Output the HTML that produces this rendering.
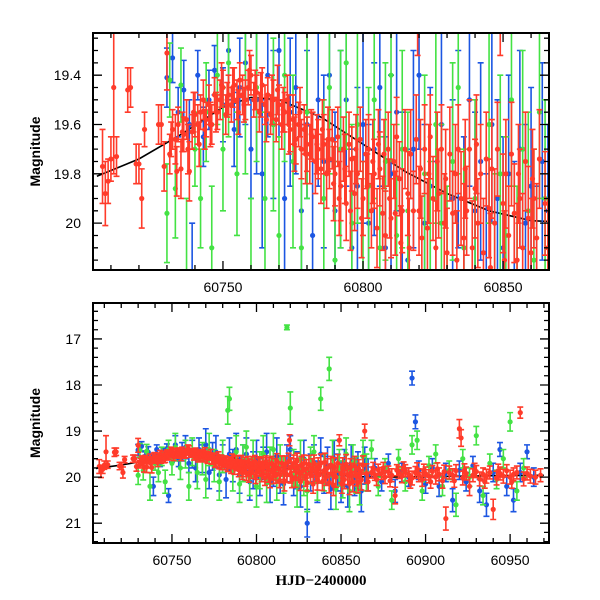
<!DOCTYPE html>
<html><head><meta charset="utf-8"><style>
html,body{margin:0;padding:0;background:#fff}
svg{display:block}
.tl{font-family:"Liberation Sans",sans-serif;font-size:14px;fill:#000}
.tt{font-family:"Liberation Serif",serif;font-size:15px;font-weight:bold;fill:#000}
</style></head><body>
<svg id="chart" width="600" height="600" viewBox="0 0 600 600" xmlns="http://www.w3.org/2000/svg">
<defs>
<clipPath id="clipTop"><rect x="93" y="33" width="456" height="237"/></clipPath>
<clipPath id="clipBot"><rect x="93" y="303" width="456" height="240"/></clipPath>
</defs>
<g id="top"></g>
<g id="bot"></g>
</svg>
<script>
const redPoints=[[60707,19.77,.15],[60708,19.88,.13],[60709,19.83,.09],[60710,19.74,.09],[60711,19.45,.35],[60712,19.73,.08],[60716,19.46,.09],[60717,19.45,.08],[60719,19.76,.08],[60720,19.76,.08],[60721,19.9,.12],[60722,19.62,.07],[60727,19.6,.08],[60728,19.6,.08],[60729,19.77,.1],[60730,19.31,.15],
[60731,19.72,.08],[60731.5,19.66,.07],[60732,19.62,.08],[60733,19.66,.1],[60733.5,19.79,.1],[60734,19.6,.07],[60735,19.78,.12],[60735.5,19.63,.08],[60736,19.64,.07],[60737,19.58,.08],[60737.5,19.7,.1],[60738,19.79,.12],[60739,19.63,.07],[60739.5,19.55,.08],[60740,19.56,.09],[60741,19.6,.08],[60741.5,19.68,.09],[60742,19.55,.07],[60743,19.5,.08],[60743.5,19.62,.08],[60744,19.58,.07],[60745,19.52,.08],[60745.5,19.6,.09],[60746,19.6,.08],[60747,19.48,.07],[60747.5,19.55,.08],[60748,19.55,.07],[60749,19.5,.08],[60749.5,19.44,.09],[60750,19.45,.07],[60751,19.56,.08],[60751.5,19.5,.07],[60752,19.48,.08],[60753,19.52,.07],[60753.5,19.45,.08],[60754,19.44,.07],[60755,19.5,.08],[60755.5,19.55,.09],[60756,19.42,.07],[60757,19.48,.08],[60757.5,19.52,.07],[60758,19.5,.08],[60759,19.45,.07],[60759.5,19.38,.08],[60760,19.4,.08],[60761,19.5,.07],[60761.5,19.46,.08],[60762,19.47,.07],[60763,19.55,.08],[60763.5,19.48,.09],[60764,19.44,.07],[60765,19.52,.08],[60765.5,19.58,.09],[60766,19.48,.07],[60767,19.56,.08],[60767.5,19.5,.1],[60768,19.5,.08],[60769,19.58,.09],[60769.5,19.46,.1],[60770,19.52,.08],[60771,19.6,.1],[60771.5,19.54,.09],[60772,19.55,.08],[60773,19.5,.1],[60773.5,19.6,.12],[60774,19.62,.09],[60775,19.58,.1],[60775.5,19.68,.11],[60776,19.66,.1],[60777,19.6,.09],[60777.5,19.55,.1],[60778,19.7,.12],[60779,19.62,.1],[60779.5,19.72,.12],[60780,19.68,.11],[60781,19.72,.12],[60781.5,19.64,.1],[60782,19.65,.1],[60783,19.75,.13],[60783.5,19.68,.12],[60784,19.7,.12],[60785,19.78,.14],[60785.5,19.62,.12],[60786,19.68,.12],[60787,19.8,.14],[60787.5,19.66,.13],[60788,19.74,.12],[60789,19.66,.12],[60789.5,19.84,.15],[60790,19.8,.13],[60791,19.65,.12],[60791.5,19.9,.15],[60792,19.85,.14],[60793,19.7,.13],[60793.5,19.78,.14],[60794,19.92,.15],[60795,19.68,.13],[60795.5,19.95,.16],[60796,19.74,.13],[60797,19.88,.15],[60797.5,19.7,.14],[60798,19.8,.14],[60799,19.66,.13],[60799.5,19.98,.16],[60800,19.9,.15],[60801,19.72,.14],[60801.5,19.85,.13],[60802,19.7,.14],[60803,19.95,.15],[60803.5,19.75,.17],[60804,19.8,.14],[60805,20.02,.16],[60805.5,19.68,.14],[60806,19.78,.15],[60807,19.96,.15],[60807.5,19.72,.14],[60808,20.05,.18],[60809,19.7,.15],[60809.5,19.9,.16],[60810,19.98,.16],[60811,19.75,.15],[60811.5,19.96,.17],[60812,19.65,.16],[60813,19.82,.15],[60813.5,20.08,.15],[60814,19.95,.17],[60815,19.7,.16],[60816,19.88,.17],[60816.5,20.1,.2],[60817,19.72,.18],[60818,19.95,.16],[60819,19.66,.18],[60819.5,19.2,.12],[60820,19.95,.18],[60820.5,19.78,.2],[60821,20.06,.17],[60822,19.7,.18],[60823,20.02,.2],[60823.5,19.8,.2],[60824,19.65,.17],[60825,19.9,.17],[60826,20.1,.19],[60826.5,19.75,.2],[60827,19.88,.18],[60828,19.7,.18],[60829,20.0,.2],[60829.5,19.82,.2],[60830,20.12,.18],[60831,19.72,.19],[60832,19.96,.17],[60833,19.8,.2],[60833.5,20.15,.2],[60834,19.7,.18],[60835,19.9,.19],[60836,20.06,.22],[60836.5,19.78,.2],[60837,19.95,.18],[60838,19.7,.2],[60839,20.1,.19],[60840,19.86,.2],[60840.5,19.68,.2],[60841,20.0,.18],[60842,19.8,.2],[60843,20.12,.22],[60844,19.74,.19],[60845,19.94,.2],[60845.5,20.18,.22],[60846,19.78,.2],[60847,20.0,.22],[60848,19.7,.19],[60849,19.2,.12],[60850,19.92,.2],[60850.5,20.15,.2],[60851,19.8,.22],[60852,20.05,.2],[60853,19.72,.21],[60854,19.96,.2],[60855,20.15,.23],[60855.5,19.8,.2],[60856,19.9,.2],[60857,20.1,.22],[60858,19.75,.2],[60859,19.98,.21],[60860,20.12,.22],[60860.5,19.82,.2],[60861,19.9,.2],[60862,20.06,.22],[60863,19.74,.2],[60864,19.0,.15],[60865,19.92,.21],[60866,20.1,.2],
[60868,19.9,.12],[60869,19.8,.12],[60870,19.95,.12],[60871,20.05,.13],[60872,19.84,.12],[60874,19.92,.13],[60875,19.8,.12],[60876,20.0,.14],[60878,19.88,.12],[60879,20.08,.13],[60880,19.96,.14],[60882,20.4,.18],[60883,19.85,.12],[60884,19.9,.13],[60886,19.98,.14],[60887,19.8,.13],[60888,19.86,.13],[60890,19.94,.14],[60891,20.1,.14],[60892,20.02,.15],[60894,19.9,.13],[60895,19.82,.13],[60896,19.96,.14],[60898,20.05,.15],[60899,19.85,.13],[60900,19.92,.14],[60902,19.98,.14],[60903,20.1,.14],[60904,19.88,.13],[60906,20.0,.15],[60907,19.82,.13],[60908,19.94,.14],[60910,20.08,.16],[60911,19.88,.14],[60912,20.9,.25],[60914,19.9,.14],[60916,19.96,.14],[60917,20.08,.14],[60918,19.86,.13],[60920,18.95,.2],[60921,19.15,.18],[60922,20.02,.15],[60923,19.85,.14],[60924,19.92,.14],[60926,20.2,.2],[60928,19.96,.14],[60929,19.84,.14],[60930,19.88,.13],[60932,20.04,.15],[60934,19.94,.14],[60935,20.1,.14],[60936,19.98,.15],[60938,19.9,.14],[60940,20.7,.22],[60942,20.02,.15],[60943,19.86,.14],[60944,19.92,.14],[60946,19.98,.15],[60948,19.86,.13],[60950,20.0,.15],[60951,20.1,.14],[60952,19.94,.14],[60954,19.9,.14],[60956,18.6,.12],[60958,20.04,.15],[60960,19.92,.14],[60962,19.98,.15],[60965,20.0,.15],[60968,19.96,.14]];

const bluePoints=[[60730,19.41,.12],[60732,19.33,.1],[60734,19.55,.1],[60736,19.46,.12],[60738,19.6,.1],[60739,20.2,.2],[60741,19.4,.1],[60743,19.65,.12],[60745,19.5,.12],[60747,19.38,.1],[60748,20.4,.15],[60750,19.52,.15],[60752,19.3,.2],[60754,19.62,.15],[60756,19.45,.2],[60758,19.35,.25],[60760,19.7,.2],[60762,19.5,.3],[60764,19.8,.3],[60766,19.4,.25],[60768,19.6,.3],[60770,19.3,.35],[60772,19.9,.35],[60774,19.55,.3],[60776,19.45,.35],[60778,19.95,.35],[60780,19.6,.3],[60782,20.05,.4],[60784,19.5,.35],[60786,19.75,.35],[60788,19.4,.35],[60790,19.95,.4],[60792,19.7,.4],[60794,19.5,.35],[60796,20.1,.4],[60798,19.85,.4],[60800,19.6,.4],[60802,20.0,.4],[60804,19.7,.35],[60806,19.45,.4],[60808,20.1,.45],[60810,19.8,.4],[60812,19.55,.4],[60814,19.95,.4],[60816,20.15,.45],[60818,19.7,.4],[60820,19.4,.3],[60822,20.0,.4],[60824,19.85,.4],[60826,20.2,.45],[60828,19.6,.4],[60830,21.0,.3],[60832,19.9,.4],[60834,19.7,.4],[60836,20.1,.45],[60838,19.5,.35],[60840,19.95,.4],[60842,19.75,.4],[60844,20.25,.45],[60846,19.6,.4],[60848,19.9,.4],[60850,20.1,.45],[60852,19.8,.4],[60854,20.2,.45],[60856,19.7,.4],[60858,20.0,.4],[60860,19.85,.4],[60862,20.3,.45],[60864,19.75,.4],[60866,19.95,.35],[60870,19.8,.2],[60874,20.1,.2],[60878,19.7,.2],[60882,20.3,.25],[60886,19.9,.2],[60890,20.0,.2],[60892,17.85,.15],[60894,18.8,.15],[60896,19.85,.2],[60900,20.15,.2],[60904,19.8,.2],[60908,20.2,.22],[60912,19.9,.2],[60916,20.5,.25],[60920,19.85,.2],[60924,20.1,.2],[60928,19.75,.2],[60932,20.3,.25],[60936,20.6,.25],[60940,19.9,.2],[60944,19.4,.15],[60948,20.2,.2],[60952,20.5,.25],[60956,19.9,.2],[60960,19.45,.15],[60964,20.0,.2]];

const greenPoints=[[60730,19.96,.2],[60731,19.42,.15],[60733,19.86,.2],[60735,19.44,.15],[60737,20.2,.3],[60740,19.7,.15],[60742,19.9,.2],[60744,19.55,.2],[60746,20.1,.25],[60748,19.4,.2],[60750,19.7,.25],[60752,19.35,.3],[60755,19.8,.25],[60758,19.5,.3],[60760,20.2,.3],[60762,19.45,.3],[60765,19.9,.35],[60768,19.6,.35],[60770,20.05,.4],[60772,19.4,.35],[60775,19.75,.35],[60778,20.1,.4],[60780,19.55,.35],[60783,18.55,.3],[60784,18.3,.25],[60786,19.9,.4],[60788,19.45,.35],[60790,20.15,.4],[60792,19.7,.4],[60794,19.35,.35],[60796,20.0,.4],[60798,19.6,.4],[60800,20.2,.45],[60802,19.85,.4],[60804,19.5,.4],[60806,20.1,.45],[60808,19.75,.4],[60810,19.4,.35],[60812,20.05,.45],[60814,19.7,.4],[60816,19.95,.4],[60818,16.75,.05],[60820,18.5,.35],[60822,19.8,.4],[60824,20.2,.45],[60826,19.6,.4],[60828,20.0,.4],[60830,20.3,.45],[60832,19.75,.4],[60834,19.45,.35],[60836,20.1,.4],[60838,18.3,.25],[60840,19.9,.4],[60843,17.65,.25],[60845,19.6,.4],[60847,20.25,.45],[60849,19.8,.4],[60851,20.05,.4],[60853,19.5,.35],[60855,20.3,.45],[60857,19.7,.4],[60859,19.95,.4],[60861,20.15,.45],[60863,19.55,.35],[60865,19.9,.4],[60868,19.4,.2],[60872,20.2,.2],[60876,19.8,.2],[60880,20.5,.2],[60884,19.6,.2],[60888,20.1,.2],[60892,19.3,.2],[60895,19.2,.2],[60898,20.3,.2],[60902,19.75,.2],[60906,19.5,.2],[60910,20.2,.2],[60914,19.85,.2],[60918,20.6,.25],[60922,19.6,.2],[60926,20.0,.2],[60930,19.1,.2],[60934,20.4,.2],[60938,19.7,.2],[60942,20.05,.2],[60946,19.6,.2],[60950,18.8,.2],[60954,20.3,.2],[60958,19.8,.2]];

const curveT=[60705,60720,60735,60750,60760,60770,60785,60800,60815,60830,60845,60860,60880,60900,60920,60940,60970];
const curveM=[19.81,19.74,19.64,19.53,19.49,19.50,19.57,19.68,19.79,19.88,19.95,19.99,20.0,19.99,19.98,19.97,19.96];

const topXTicks=[60750,60800,60850];
const topYTicks=[19.4,19.6,19.8,20];
const topYLabels=["19.4","19.6","19.8","20"];
const botXTicks=[60750,60800,60850,60900,60950];
const botYTicks=[17,18,19,20,21];
const botYLabels=["17","18","19","20","21"];

const NS="http://www.w3.org/2000/svg";
function mk(tag,attrs,parent){const e=document.createElementNS(NS,tag);for(const k in attrs)e.setAttribute(k,attrs[k]);parent.appendChild(e);return e;}
function scale(d0,d1,r0,r1){return v=>r0+(v-d0)*(r1-r0)/(d1-d0);}

const COLORS={blue:"#1c56e2",green:"#44e244",red:"#ff3b2a"};

function panel(g,clip,x0,x1,y0,y1,t0,t1,m0,m1,xt,xMinor,yt,yl,yMinor,showXTitle){
  const X=scale(t0,t1,x0,x1),Y=scale(m0,m1,y0,y1);
  const data=mk("g",{"clip-path":"url(#"+clip+")"},g);
  
  
  let d="";curveT.forEach((t,i)=>{d+=(i?"L":"M")+X(t).toFixed(1)+","+Y(curveM[i]).toFixed(1);});
  const c=mk("path",{d:d,fill:"none",stroke:"#000","stroke-width":1.6},data);
  
  
  [["blue",bluePoints],["green",greenPoints],["red",redPoints]].forEach(([nm,arr])=>{
    const sg=mk("g",{stroke:COLORS[nm],fill:COLORS[nm],"stroke-width":1.6},data);
    
    
    arr.forEach(p=>{
      const x=X(p[0]),y=Y(p[1]),ya=Y(p[1]-p[2]),yb=Y(p[1]+p[2]);
      mk("path",{d:`M${x},${ya}V${yb}M${x-3},${ya}H${x+3}M${x-3},${yb}H${x+3}`,fill:"none"},sg);
      const pt=mk("circle",{cx:x,cy:y,r:2.6,stroke:"none"},sg);
      
      
    });
  });
  const ax=mk("g",{stroke:"#000","stroke-width":1.3,fill:"none"},g);
  
  
  mk("rect",{x:x0,y:y0,width:x1-x0,height:y1-y0,"stroke-width":2},ax);
  let tk="";
  for(let t=Math.ceil(t0/xMinor)*xMinor;t<=t1;t+=xMinor){const x=X(t);const L=(Math.round(t)%50===0)?9:5;tk+=`M${x},${y1}v${-L}M${x},${y0}v${L}`;}
  const ys=Math.min(m0,m1);const ye=Math.max(m0,m1);
  for(let k=Math.ceil(ys/yMinor-1e-6);k*yMinor<=ye+1e-9;k++){const m=k*yMinor;const y=Y(m);const maj=yt.some(v=>Math.abs(v-m)<1e-6);const L=maj?9:5;tk+=`M${x0},${y}h${L}M${x1},${y}h${-L}`;}
  mk("path",{d:tk},ax);
  xt.forEach(t=>{const e=mk("text",{x:X(t),y:y1+22,"text-anchor":"middle",class:"tl"},g);e.textContent=String(t);
    
    });
  yt.forEach((m,i)=>{const e=mk("text",{x:x0-12,y:Y(m)+5,"text-anchor":"end",class:"tl"},g);e.textContent=yl[i];
    
    });
  const yc=(y0+y1)/2;
  const yt2=mk("text",{x:0,y:0,transform:`translate(40,${yc}) rotate(-90)`,"text-anchor":"middle",class:"tl","font-weight":"bold","font-size":"14"},g);
  yt2.textContent="Magnitude";
  
  
  if(showXTitle){const e=mk("text",{x:(x0+x1)/2,y:y1+42,"text-anchor":"middle",class:"tt"},g);e.textContent="HJD\u22122400000";
    
    }
}
panel(document.getElementById("top"),"clipTop",93,549,33,270,60703.6,60866.4,19.229,20.19,topXTicks,10,topYTicks,topYLabels,0.05,false);
panel(document.getElementById("bot"),"clipBot",93,549,303,543,60703.3,60973,16.22,21.43,botXTicks,10,botYTicks,botYLabels,0.2,true);
</script>
</body></html>
